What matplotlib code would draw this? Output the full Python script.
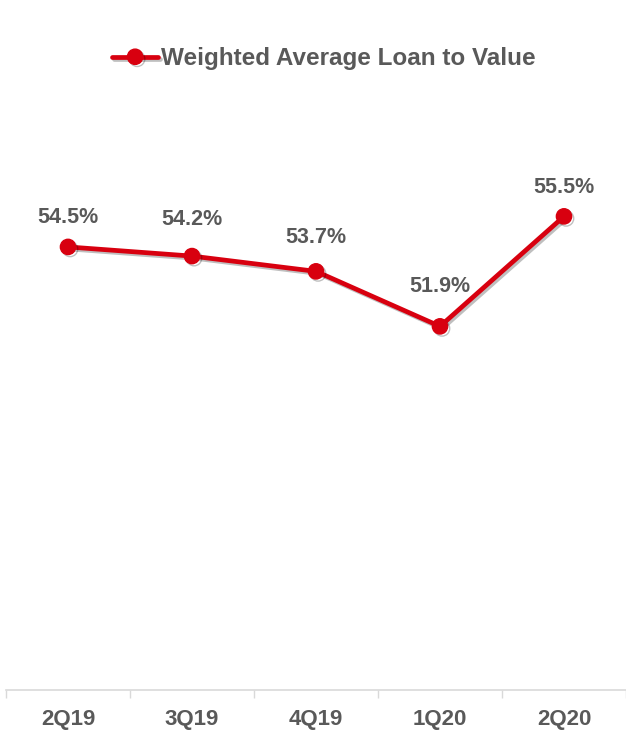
import matplotlib
matplotlib.use("Agg")
import matplotlib.pyplot as plt
import matplotlib.patheffects as pe

quarters = ['2Q19', '3Q19', '4Q19', '1Q20', '2Q20']
ltv = [54.5, 54.2, 53.7, 51.9, 55.5]
series_name = 'Weighted Average Loan to Value'

red = '#D8000F'
gray_text = '#595959'
axis_gray = '#D9D9D9'

plt.rcParams['font.family'] = ['Liberation Sans', 'DejaVu Sans']

fig = plt.figure(figsize=(6.26, 7.44), dpi=100)
ax = fig.add_axes([0.0096, 0.0726, 0.9904, 0.8214])

x = range(len(quarters))
line, = ax.plot(x, ltv, color=red, lw=3.4, marker='o', markersize=11,
                label=series_name, solid_capstyle='round',
                path_effects=[pe.SimpleLineShadow(offset=(1.5, -1.5), shadow_color='black', alpha=0.25),
                              pe.Normal()])

# label offsets above each point (points), as placed in the source chart
label_dy = [21, 26, 24.5, 28.5, 21]
for xi, v, dy in zip(x, ltv, label_dy):
    ax.annotate(f'{v:.1f}%', (xi, v), xytext=(0, dy), textcoords='offset points',
                ha='center', va='center', fontsize=15.5, fontweight='bold', color=gray_text)

ax.set_xlim(-0.5, len(quarters) - 0.5)
ax.set_ylim(40, 60)
ax.set_yticks([])
for s in ['top', 'right', 'left']:
    ax.spines[s].set_visible(False)
ax.spines['bottom'].set_color(axis_gray)
ax.spines['bottom'].set_linewidth(1.2)

ax.set_xticks(list(x))
ax.set_xticklabels(quarters, fontsize=16, fontweight='bold', color=gray_text)
ax.tick_params(axis='x', which='major', length=0, pad=14)
ax.set_xticks([i - 0.5 for i in range(len(quarters) + 1)], minor=True)
ax.tick_params(axis='x', which='minor', length=6, color=axis_gray, width=1)

fig.legend(handles=[line], loc='center', bbox_to_anchor=(0.517, 0.921), frameon=False,
           prop={'size': 17.5, 'weight': 'bold'}, labelcolor=gray_text,
           handlelength=1.9, handletextpad=0.1)

fig.savefig('out.png', dpi=100, facecolor='white')
